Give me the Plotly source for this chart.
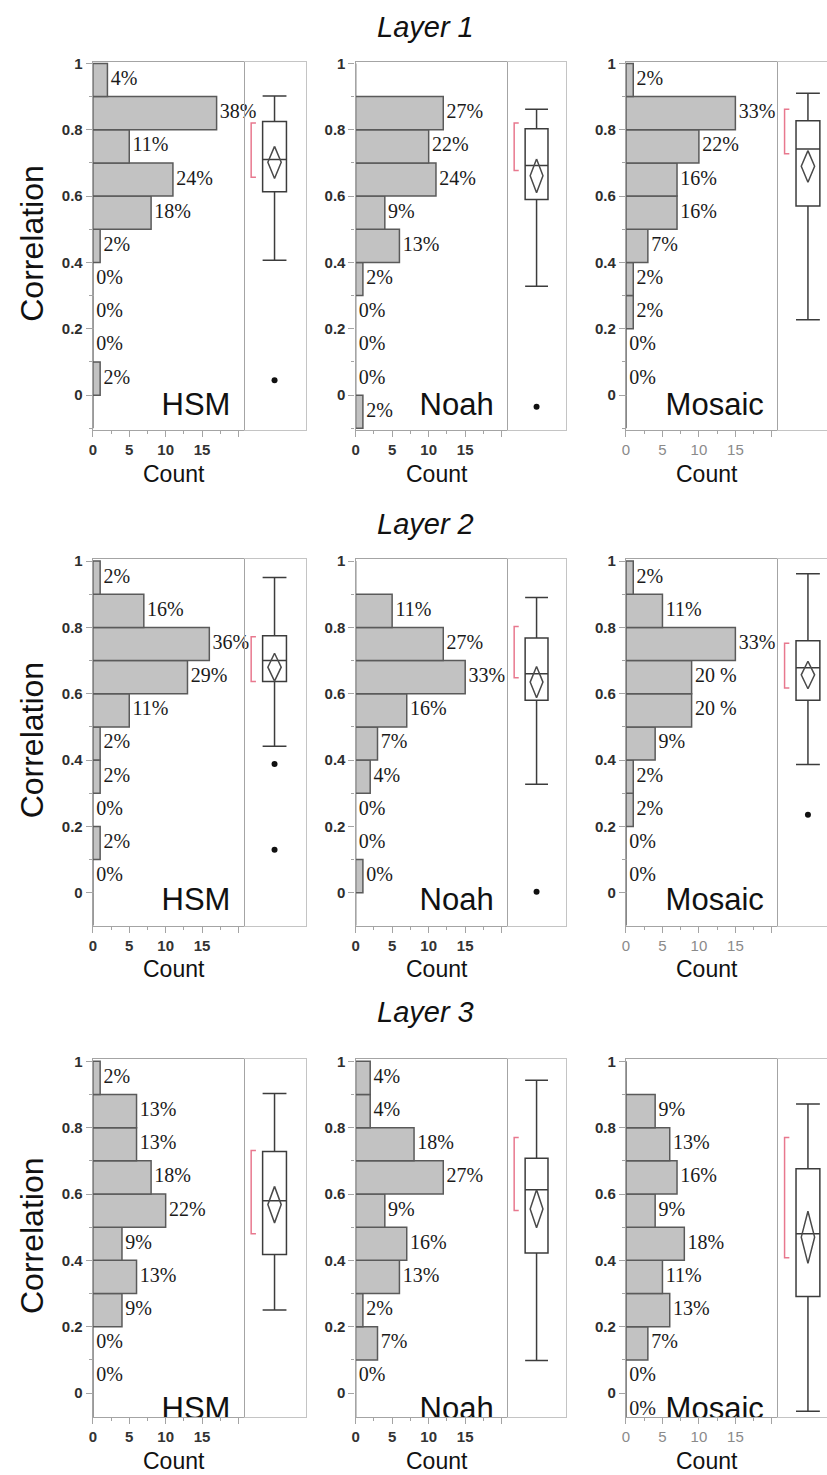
import plotly.graph_objects as go

W, H = 827, 1475

layers = ["Layer 1", "Layer 2", "Layer 3"]
models = ["HSM", "Noah", "Mosaic"]

# histogram bins (lower edges), bin width 0.1
bin_lo = [-0.1, 0.0, 0.1, 0.2, 0.3, 0.4, 0.5, 0.6, 0.7, 0.8, 0.9]
bin_w = 0.1

# counts per bin (from bin -0.1 up to bin 0.9)
hsm_l1_counts = [0, 1, 0, 0, 0, 1, 8, 11, 5, 17, 2]
noah_l1_counts = [1, 0, 0, 0, 1, 6, 4, 11, 10, 12, 0]
mosaic_l1_counts = [0, 0, 0, 1, 1, 3, 7, 7, 10, 15, 1]
hsm_l2_counts = [0, 0, 1, 0, 1, 1, 5, 13, 16, 7, 1]
noah_l2_counts = [0, 1, 0, 0, 2, 3, 7, 15, 12, 5, 0]
mosaic_l2_counts = [0, 0, 0, 1, 1, 4, 9, 9, 15, 5, 1]
hsm_l3_counts = [0, 0, 0, 4, 6, 4, 10, 8, 6, 6, 1]
noah_l3_counts = [0, 0, 3, 1, 6, 7, 4, 12, 8, 2, 2]
mosaic_l3_counts = [0, 0, 3, 6, 5, 8, 4, 7, 6, 4, 0]

# percentage labels as printed next to each bin
hsm_l1_labels = ["", "2%", "0%", "0%", "0%", "2%", "18%", "24%", "11%", "38%", "4%"]
noah_l1_labels = ["2%", "0%", "0%", "0%", "2%", "13%", "9%", "24%", "22%", "27%", ""]
mosaic_l1_labels = ["", "0%", "0%", "2%", "2%", "7%", "16%", "16%", "22%", "33%", "2%"]
hsm_l2_labels = ["", "0%", "2%", "0%", "2%", "2%", "11%", "29%", "36%", "16%", "2%"]
noah_l2_labels = ["", "0%", "0%", "0%", "4%", "7%", "16%", "33%", "27%", "11%", ""]
mosaic_l2_labels = ["", "0%", "0%", "2%", "2%", "9%", "20 %", "20 %", "33%", "11%", "2%"]
hsm_l3_labels = ["", "0%", "0%", "9%", "13%", "9%", "22%", "18%", "13%", "13%", "2%"]
noah_l3_labels = ["", "0%", "7%", "2%", "13%", "16%", "9%", "27%", "18%", "4%", "4%"]
mosaic_l3_labels = ["0%", "0%", "7%", "13%", "11%", "18%", "9%", "16%", "13%", "9%", ""]

# box plot summaries: q1, median, q3, lower whisker, upper whisker
box_q1 = [[0.613, 0.590, 0.570], [0.637, 0.580, 0.580], [0.418, 0.422, 0.291]]
box_med = [[0.710, 0.692, 0.742], [0.700, 0.660, 0.678], [0.580, 0.613, 0.480]]
box_q3 = [[0.825, 0.803, 0.827], [0.775, 0.768, 0.760], [0.728, 0.708, 0.676]]
box_lo = [[0.407, 0.328, 0.227], [0.442, 0.327, 0.387], [0.250, 0.098, -0.055]]
box_hi = [[0.902, 0.862, 0.910], [0.950, 0.890, 0.962], [0.903, 0.943, 0.871]]
# means diamond: mean and its confidence interval
mean_val = [[0.702, 0.661, 0.690], [0.680, 0.635, 0.657], [0.568, 0.555, 0.470]]
mean_lo = [[0.653, 0.610, 0.642], [0.638, 0.588, 0.615], [0.513, 0.498, 0.391]]
mean_hi = [[0.750, 0.712, 0.737], [0.722, 0.682, 0.698], [0.623, 0.613, 0.548]]
# shortest half bracket
short_lo = [[0.657, 0.677, 0.728], [0.637, 0.648, 0.617], [0.480, 0.550, 0.408]]
short_hi = [[0.820, 0.820, 0.862], [0.772, 0.803, 0.752], [0.731, 0.770, 0.770]]
# outliers
outliers = [[[0.045], [-0.035], []], [[0.388, 0.130], [0.003], [0.235]], [[], [], []]]

y_ticks = [0, 0.2, 0.4, 0.6, 0.8, 1.0]
y_ticktext = ["0", "0.2", "0.4", "0.6", "0.8", "1"]
x_ticks = [0, 5, 10, 15, 20]
x_ticktext = ["0", "5", "10", "15", ""]

counts = [[hsm_l1_counts, noah_l1_counts, mosaic_l1_counts],
          [hsm_l2_counts, noah_l2_counts, mosaic_l2_counts],
          [hsm_l3_counts, noah_l3_counts, mosaic_l3_counts]]
labels = [[hsm_l1_labels, noah_l1_labels, mosaic_l1_labels],
          [hsm_l2_labels, noah_l2_labels, mosaic_l2_labels],
          [hsm_l3_labels, noah_l3_labels, mosaic_l3_labels]]

# ---------------- layout geometry (pixels) ----------------
hist_px = [(89.3, 240.7), (353.3, 505.3), (625.0, 776.7)]
box_px = [(240.7, 303.0), (505.3, 565.0), (776.7, 827.0)]
row_px = [(55, 425), (555, 923), (1057, 1417)]
y_ranges = [(-0.105, 1.005), (-0.099, 1.005), (-0.073, 1.007)]
model_label_y = [-0.036, -0.030, -0.055]
count_title_y = [469, 967, 1461]
layer_title_y = [20, 519, 1010]
hist_xmax = 20.7
box_px_per_unit = 23.96
label_gap = 0.45  # gap (in counts) between bar end and its label

FRAME = "#c4c4c4"
AX = "#a4a4a4"
PCTFONT = dict(family="Liberation Serif", size=20, color="#1a1a1a")

def px2x(p):
    return p / W

def px2y(p):
    return 1 - p / H

fig = go.Figure()
layout = dict(width=W, height=H, margin=dict(l=0, r=0, t=0, b=0),
              paper_bgcolor="white", plot_bgcolor="white", showlegend=False,
              annotations=[])

centers = [b + bin_w / 2 for b in bin_lo]

for r in range(3):
    for c in range(3):
        kh = r * 6 + c * 2 + 1
        kb = kh + 1
        xh, yh, xb, yb = f"x{kh}", f"y{kh}", f"x{kb}", f"y{kb}"
        yd = [px2y(row_px[r][1]), px2y(row_px[r][0])]
        # histogram axes
        layout[f"xaxis{kh}"] = dict(
            domain=[px2x(hist_px[c][0]), px2x(hist_px[c][1])], anchor=yh,
            range=[0, hist_xmax], showgrid=False, zeroline=False,
            showline=True, linecolor=AX, linewidth=1.3, mirror=True,
            ticks="outside", ticklen=6, tickwidth=1.2, tickcolor=AX,
            tickvals=x_ticks, ticktext=x_ticktext,
            tickfont=dict(family="Liberation Sans", size=15,
                          color="#8a8a8a" if c == 2 else "#333333",
                          weight="normal" if c == 2 else "bold"),
            minor=dict(ticks="outside", ticklen=3, dtick=2.5, tick0=0,
                       tickcolor=AX, tickwidth=1, showgrid=False),
            fixedrange=True)
        layout[f"yaxis{kh}"] = dict(
            domain=yd, anchor=xh, range=list(y_ranges[r]), showgrid=False,
            zeroline=False, showline=True, linecolor=AX, linewidth=1.3,
            mirror=True, ticks="outside", ticklen=6, tickwidth=1.2,
            tickcolor=AX, tickvals=y_ticks, ticktext=y_ticktext,
            tickfont=dict(family="Liberation Sans", size=15, color="#2e2e2e",
                          weight="bold"),
            minor=dict(ticks="outside", ticklen=3, dtick=0.1, tick0=0,
                       tickcolor=AX, tickwidth=1, showgrid=False),
            fixedrange=True)
        # box axes
        bw_px = box_px[c][1] - box_px[c][0]
        xr0 = -1.3
        xr1 = xr0 + bw_px / box_px_per_unit if c == 2 else 1.3
        layout[f"xaxis{kb}"] = dict(
            domain=[px2x(box_px[c][0]), px2x(box_px[c][1])], anchor=yb,
            range=[xr0, xr1], showgrid=False, zeroline=False,
            showline=True, linecolor=FRAME, linewidth=1.3, mirror=True,
            showticklabels=False, ticks="", fixedrange=True)
        layout[f"yaxis{kb}"] = dict(
            domain=yd, anchor=xb, range=list(y_ranges[r]), showgrid=False,
            zeroline=False, showline=(c != 2), side="right",
            linecolor=FRAME, linewidth=1.3, mirror=False,
            showticklabels=False, ticks="", fixedrange=True)

        cnt = counts[r][c]
        lab = labels[r][c]
        # bars
        fig.add_trace(go.Bar(
            x=cnt, y=centers, orientation="h", width=bin_w,
            marker=dict(color="#c2c2c2", line=dict(color="#5a5a5a", width=1.5)),
            xaxis=xh, yaxis=yh, hoverinfo="skip"))
        # percentage labels
        fig.add_trace(go.Scatter(
            x=[v + label_gap for v in cnt], y=centers, mode="text", text=lab,
            textposition="middle right", textfont=PCTFONT,
            cliponaxis=(r == 2), xaxis=xh, yaxis=yh, hoverinfo="skip"))
        # model name
        fig.add_trace(go.Scatter(
            x=[18.9], y=[model_label_y[r]], mode="text", text=[models[c]],
            textposition="middle left",
            textfont=dict(family="Liberation Sans", size=31, color="#111"),
            cliponaxis=True, xaxis=xh, yaxis=yh, hoverinfo="skip"))

        # box plot
        fig.add_trace(go.Box(
            x=[0], q1=[box_q1[r][c]], median=[box_med[r][c]], q3=[box_q3[r][c]],
            lowerfence=[box_lo[r][c]], upperfence=[box_hi[r][c]],
            width=1.0, whiskerwidth=1.0, boxpoints=False,
            fillcolor="white", line=dict(color="#3c3c3c", width=1.5),
            xaxis=xb, yaxis=yb, hoverinfo="skip"))
        # means diamond
        dw = 0.28
        fig.add_trace(go.Scatter(
            x=[0, dw, 0, -dw, 0],
            y=[mean_hi[r][c], mean_val[r][c], mean_lo[r][c], mean_val[r][c], mean_hi[r][c]],
            mode="lines", line=dict(color="#4a4a4a", width=1.5),
            xaxis=xb, yaxis=yb, hoverinfo="skip"))
        # shortest-half bracket
        fig.add_trace(go.Scatter(
            x=[-0.78, -0.98, -0.98, -0.78],
            y=[short_hi[r][c], short_hi[r][c], short_lo[r][c], short_lo[r][c]],
            mode="lines", line=dict(color="#e8788e", width=1.5),
            xaxis=xb, yaxis=yb, hoverinfo="skip"))
        # outliers
        if outliers[r][c]:
            fig.add_trace(go.Scatter(
                x=[0] * len(outliers[r][c]), y=outliers[r][c], mode="markers",
                marker=dict(color="#111", size=6),
                xaxis=xb, yaxis=yb, hoverinfo="skip"))

        # Count title
        layout["annotations"].append(dict(
            x=px2x((hist_px[c][0] + hist_px[c][1]) / 2 + 6),
            y=px2y(count_title_y[r]), xref="paper", yref="paper",
            text="Count", showarrow=False, xanchor="center", yanchor="middle",
            font=dict(family="Liberation Sans", size=23, color="#111")))

    # Layer title
    layout["annotations"].append(dict(
        x=px2x(424), y=px2y(layer_title_y[r]), xref="paper", yref="paper",
        text=f"<i>{layers[r]}</i>", showarrow=False, xanchor="center",
        yanchor="middle", font=dict(family="Liberation Sans", size=29, color="#111")))
    # Correlation title
    layout["annotations"].append(dict(
        x=px2x(28), y=px2y((row_px[r][0] + row_px[r][1]) / 2 - 3),
        xref="paper", yref="paper", text="Correlation", textangle=-90,
        showarrow=False, xanchor="center", yanchor="middle",
        font=dict(family="Liberation Sans", size=32, color="#111")))

fig.update_layout(**layout)
fig.write_html("out.html")
